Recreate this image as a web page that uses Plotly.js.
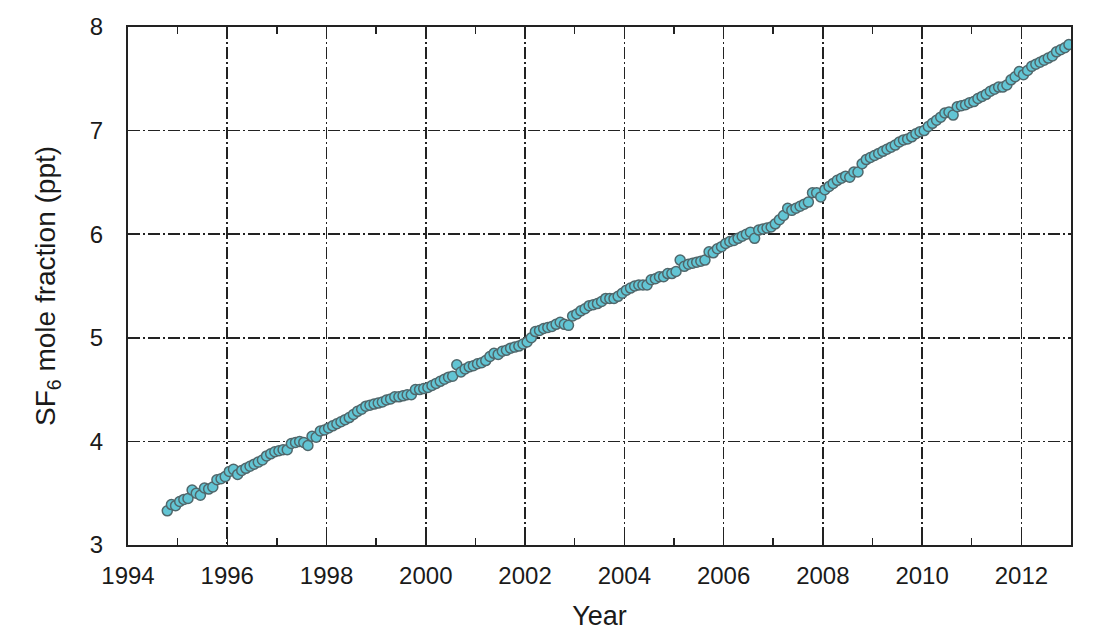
<!DOCTYPE html>
<html>
<head>
<meta charset="utf-8">
<script src="https://cdn.plot.ly/plotly-3.0.1.min.js"></script>
<style>
  html, body { margin: 0; padding: 0; background: #ffffff; }
  #chart { width: 1106px; height: 641px; }
</style>
</head>
<body>
<div id="chart"></div>
<script>
// Monthly SF6 mole fraction (ppt); series starts October 1994
const startYear = 1994;
const startMonth = 10; // October
const sf6_1994 = [3.33, 3.39, 3.38];
const sf6_1995 = [3.42, 3.44, 3.45, 3.53, 3.50, 3.48, 3.55, 3.54, 3.56, 3.63, 3.64, 3.66];
const sf6_1996 = [3.71, 3.73, 3.68, 3.72, 3.74, 3.76, 3.78, 3.80, 3.82, 3.86, 3.88, 3.90];
const sf6_1997 = [3.91, 3.92, 3.92, 3.98, 3.99, 4.00, 3.99, 3.96, 4.05, 4.04, 4.10, 4.11];
const sf6_1998 = [4.13, 4.15, 4.17, 4.19, 4.21, 4.23, 4.26, 4.29, 4.31, 4.34, 4.35, 4.36];
const sf6_1999 = [4.37, 4.38, 4.40, 4.41, 4.43, 4.43, 4.44, 4.45, 4.45, 4.50, 4.50, 4.51];
const sf6_2000 = [4.52, 4.54, 4.56, 4.58, 4.60, 4.62, 4.63, 4.74, 4.67, 4.70, 4.72, 4.73];
const sf6_2001 = [4.75, 4.76, 4.78, 4.82, 4.85, 4.84, 4.87, 4.88, 4.90, 4.91, 4.92, 4.94];
const sf6_2002 = [4.96, 5.00, 5.06, 5.07, 5.09, 5.10, 5.11, 5.13, 5.15, 5.13, 5.12, 5.21];
const sf6_2003 = [5.23, 5.26, 5.28, 5.31, 5.32, 5.33, 5.35, 5.38, 5.38, 5.38, 5.40, 5.43];
const sf6_2004 = [5.46, 5.48, 5.50, 5.51, 5.51, 5.51, 5.56, 5.57, 5.59, 5.59, 5.62, 5.62];
const sf6_2005 = [5.64, 5.75, 5.69, 5.71, 5.72, 5.73, 5.74, 5.75, 5.83, 5.82, 5.86, 5.88];
const sf6_2006 = [5.91, 5.93, 5.94, 5.96, 5.98, 6.00, 6.02, 5.96, 6.04, 6.05, 6.06, 6.07];
const sf6_2007 = [6.10, 6.14, 6.18, 6.25, 6.23, 6.25, 6.27, 6.29, 6.31, 6.40, 6.40, 6.36];
const sf6_2008 = [6.43, 6.46, 6.49, 6.52, 6.54, 6.56, 6.55, 6.60, 6.60, 6.68, 6.72, 6.74];
const sf6_2009 = [6.76, 6.78, 6.80, 6.82, 6.84, 6.86, 6.89, 6.91, 6.92, 6.94, 6.97, 6.99];
const sf6_2010 = [7.00, 7.04, 7.07, 7.10, 7.13, 7.17, 7.18, 7.15, 7.23, 7.24, 7.25, 7.27];
const sf6_2011 = [7.28, 7.31, 7.33, 7.35, 7.38, 7.40, 7.42, 7.42, 7.44, 7.49, 7.52, 7.57];
const sf6_2012 = [7.54, 7.58, 7.62, 7.64, 7.66, 7.68, 7.70, 7.72, 7.76, 7.78, 7.80, 7.83];

const xTickVals = [1994, 1996, 1998, 2000, 2002, 2004, 2006, 2008, 2010, 2012];
const xTickText = ["1994", "1996", "1998", "2000", "2002", "2004", "2006", "2008", "2010", "2012"];
const yTickVals = [3, 4, 5, 6, 7, 8];

const sf6 = [].concat(sf6_1994, sf6_1995, sf6_1996, sf6_1997, sf6_1998, sf6_1999, sf6_2000,
  sf6_2001, sf6_2002, sf6_2003, sf6_2004, sf6_2005, sf6_2006, sf6_2007, sf6_2008, sf6_2009,
  sf6_2010, sf6_2011, sf6_2012);
// time of each monthly sample (mid-month, decimal year)
const t = sf6.map((_, i) => startYear + (startMonth - 1 + i + 0.5) / 12);

const trace = {
  x: t, y: sf6, type: 'scatter', mode: 'markers',
  marker: { size: 10, color: '#62c5d4', line: { color: '#50676b', width: 1.5 } },
  hoverinfo: 'x+y'
};

const regular = '"Liberation Sans", Arial, sans-serif';

const layout = {
  width: 1106, height: 641,
  margin: { l: 128, r: 35, t: 27, b: 96 },
  paper_bgcolor: '#ffffff', plot_bgcolor: '#ffffff',
  showlegend: false,
  xaxis: {
    range: [1994, 2013], tickmode: 'array', tickvals: xTickVals, ticktext: xTickText,
    tickfont: { family: regular, size: 24, color: '#1a1a1a' },
    ticks: 'inside', ticklen: 0, ticklabelstandoff: 8,
    showgrid: true, gridcolor: '#222222', gridwidth: 1.6, griddash: '12px,3px,2px,3px',
    showline: true, linecolor: '#222222', linewidth: 2, mirror: 'allticks',
    zeroline: false,
    minor: { dtick: 1, tick0: 1995, ticks: 'inside', ticklen: 7, tickcolor: '#222222', tickwidth: 1.5, showgrid: false },
    title: { text: 'Year', font: { family: regular, size: 27, color: '#1a1a1a' }, standoff: 18 }
  },
  yaxis: {
    range: [3, 8], tickmode: 'array', tickvals: yTickVals,
    tickfont: { family: regular, size: 24, color: '#1a1a1a' },
    ticks: 'inside', ticklen: 0, ticklabelstandoff: 18,
    showgrid: true, gridcolor: '#222222', gridwidth: 1.6, griddash: '12px,3px,2px,3px',
    showline: true, linecolor: '#222222', linewidth: 2, mirror: 'allticks',
    zeroline: false,
    title: { text: 'SF<sub>6</sub> mole fraction (ppt)', font: { family: regular, size: 28, color: '#1a1a1a' }, standoff: 26 }
  }
};

Plotly.newPlot('chart', [trace], layout, { displayModeBar: false, staticPlot: true });
</script>
</body>
</html>
